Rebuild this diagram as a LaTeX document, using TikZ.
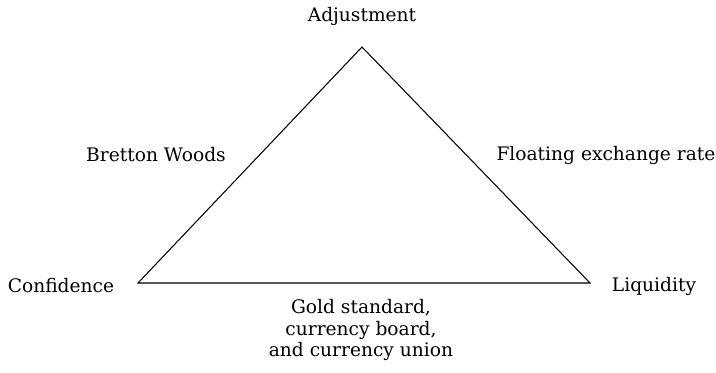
\documentclass[tikz,border=0pt]{standalone}
\usepackage{fontspec}
\setmainfont{DejaVu Serif}
\usepackage{tikz}
\usetikzlibrary{positioning}

\begin{document}
\begin{tikzpicture}
	\useasboundingbox (0,0) rectangle (14.32,7.44);
	\coordinate (T) at (7.24,6.50);
	\coordinate (L) at (2.76,1.78);
	\coordinate (R) at (11.80,1.78);

	\begin{scope}[every node/.style={font=\fontsize{10.6}{12.5}\selectfont,inner sep=0pt}]
	    \node (adj) at (7.24,7.12) {Adjustment};
	    \node (conf) at (1.22,1.72) {Confidence};
	    \node (liq) at (13.08,1.72) {Liquidity};
	    \node (bw) at (3.12,4.34) {Bretton Woods};
	    \node (fx) at (12.12,4.34) {Floating exchange rate};
	    \node[align=center] (gold) at (7.22,0.84) {Gold standard,\\currency board,\\and currency union};
	\end{scope}

	\draw[line width=0.6pt] (T) -- (L) -- (R) -- cycle;
\end{tikzpicture}
\end{document}
